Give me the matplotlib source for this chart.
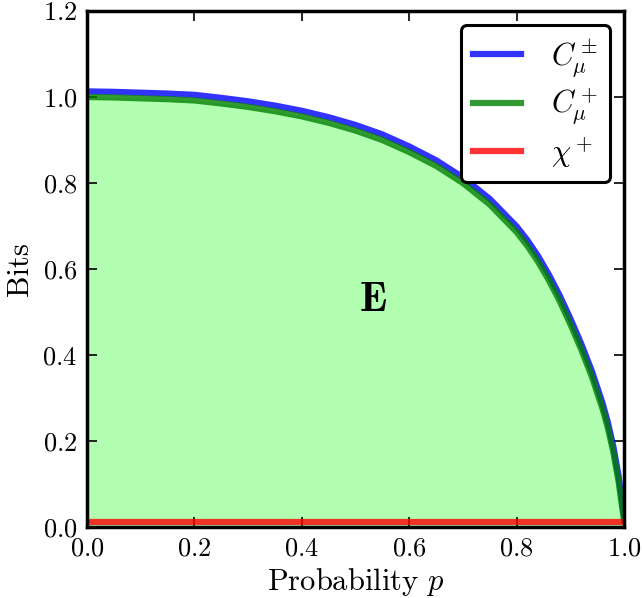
import matplotlib
matplotlib.use("Agg")
import matplotlib.pyplot as plt

plt.rcParams['font.family'] = 'serif'
plt.rcParams['font.serif'] = ['cmr10']
plt.rcParams['mathtext.fontset'] = 'cm'
plt.rcParams['axes.formatter.use_mathtext'] = True

# probability grid and curves
p = [0.0, 0.05, 0.1, 0.15, 0.2, 0.25, 0.3, 0.35, 0.4, 0.45, 0.5, 0.55, 0.6,
     0.65, 0.7, 0.75, 0.8, 0.82, 0.84, 0.86, 0.88, 0.9, 0.92, 0.94, 0.96,
     0.97, 0.98, 0.99, 1.0]
c_plus = [1.0, 0.999, 0.997, 0.995, 0.992, 0.985, 0.977, 0.967, 0.955, 0.94,
          0.922, 0.90, 0.872, 0.840, 0.800, 0.750, 0.686, 0.654, 0.617, 0.574,
          0.526, 0.472, 0.414, 0.350, 0.275, 0.230, 0.175, 0.105, 0.015]
c_pm = [1.013, 1.012, 1.010, 1.008, 1.005, 0.998, 0.990, 0.980, 0.968, 0.953,
        0.935, 0.913, 0.885, 0.853, 0.813, 0.763, 0.699, 0.667, 0.630, 0.587,
        0.539, 0.485, 0.427, 0.363, 0.288, 0.243, 0.188, 0.118, 0.028]
chi_p = [0.0, 1.0]
chi_plus = [0.012, 0.012]

fig = plt.figure(figsize=(6.42, 5.98), dpi=100)
ax = fig.add_axes([0.1355, 0.1187, 0.8365, 0.8629])

ax.fill_between(p, 0, c_plus, color='lime', alpha=0.3, lw=0)
ax.plot(p, c_pm, color='b', alpha=0.8, lw=4.5, label=r'$C_\mu^\pm$')
ax.plot(p, c_plus, color='g', alpha=0.8, lw=4.5, label=r'$C_\mu^+$')
ax.plot(chi_p, chi_plus, color='r', alpha=0.8, lw=4.5, label=r'$\chi^+$')

ax.text(0.533, 0.528, r'$\mathbf{E}$', fontsize=30, ha='center', va='center')

ax.set_xlim(0, 1)
ax.set_ylim(0, 1.2)
ax.set_xlabel(r'Probability $p$', fontsize=22, labelpad=4)
ax.set_ylabel('Bits', fontsize=22, labelpad=6)
ax.tick_params(direction='in', top=True, right=True, length=7, width=1.2,
               labelsize=19, pad=7)
for s in ax.spines.values():
    s.set_linewidth(2.5)

leg = ax.legend(loc='upper right', fontsize=22, handlelength=1.55,
                handletextpad=1.0, labelspacing=0.25, borderaxespad=0.45,
                fancybox=True, framealpha=1)
leg.get_frame().set_edgecolor('black')
leg.get_frame().set_linewidth(2.2)

fig.savefig('out.png', dpi=100)
